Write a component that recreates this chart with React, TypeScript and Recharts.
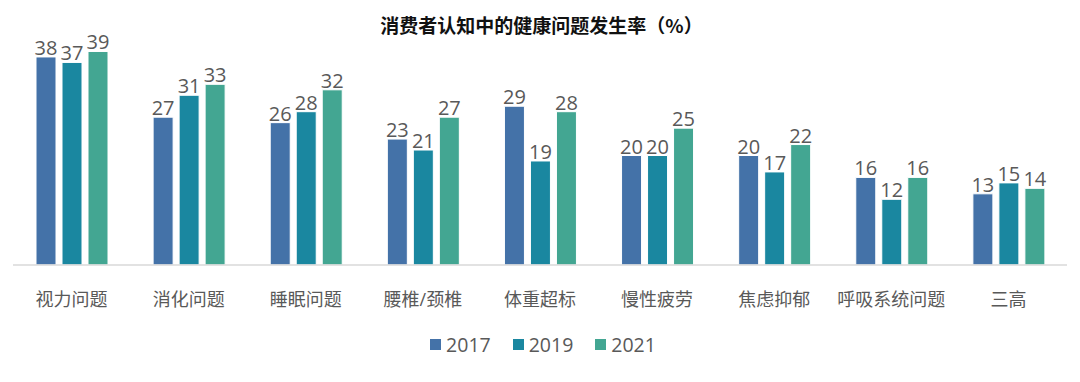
import { BarChart, Bar, XAxis, YAxis, LabelList } from 'recharts';

const categories = ['视力问题', '消化问题', '睡眠问题', '腰椎/颈椎', '体重超标', '慢性疲劳', '焦虑抑郁', '呼吸系统问题', '三高'];
const v2017 = [38, 27, 26, 23, 29, 20, 20, 16, 13];
const v2019 = [37, 31, 28, 21, 19, 20, 17, 12, 15];
const v2021 = [39, 33, 32, 27, 28, 25, 22, 16, 14];

const series = [
  { key: 'y2017', name: '2017', color: '#4472A8' },
  { key: 'y2019', name: '2019', color: '#1A87A0' },
  { key: 'y2021', name: '2021', color: '#43A692' },
];

const data = categories.map((c, i) => ({ name: c, y2017: v2017[i], y2019: v2019[i], y2021: v2021[i] }));

const FONT = '"Open Sans", "Noto Sans CJK SC", sans-serif';

const Legend = () => (
  <div
    style={{
      position: 'absolute',
      top: 331,
      left: 0,
      width: 1086,
      display: 'flex',
      justifyContent: 'center',
      fontFamily: FONT,
      fontSize: 19.5,
      color: '#595959',
    }}
  >
    {series.map((s) => (
      <div key={s.key} style={{ display: 'flex', alignItems: 'center', margin: '0 11px' }}>
        <span style={{ width: 11, height: 11, background: s.color, marginRight: 5, display: 'inline-block' }} />
        <span>{s.name}</span>
      </div>
    ))}
  </div>
);

export default function App() {
  return (
    <div style={{ position: 'relative', width: 1080, height: 382, background: '#fff', fontFamily: FONT }}>
      <style>{'body{margin:0}'}</style>
      <div
        style={{
          position: 'absolute',
          top: 11,
          left: 0,
          width: 1083,
          textAlign: 'center',
          fontFamily: '"Noto Sans CJK SC", sans-serif',
          fontWeight: 700,
          fontSize: 19,
          color: '#111',
        }}
      >
        消费者认知中的健康问题发生率（%）
      </div>
      <BarChart
        width={1080}
        height={382}
        data={data}
        margin={{ top: 46, right: 13, left: 13, bottom: 87 }}
        barGap={6}
        barSize={20}
      >
        <XAxis
          dataKey="name"
          axisLine={{ stroke: '#d9d9d9', strokeWidth: 1.5 }}
          tickLine={false}
          height={30}
          tickMargin={22}
          tick={{ fill: '#595959', fontSize: 18, fontFamily: FONT }}
          interval={0}
        />
        <YAxis hide domain={[0, 40]} />
        {series.map((s) => (
          <Bar key={s.key} dataKey={s.key} name={s.name} fill={s.color} stroke="#fff" strokeWidth={1} isAnimationActive={false}>
            <LabelList dataKey={s.key} position="top" offset={2} fill="#595959" fontSize={20} fontFamily={FONT} />
          </Bar>
        ))}
      </BarChart>
      <Legend />
    </div>
  );
}
